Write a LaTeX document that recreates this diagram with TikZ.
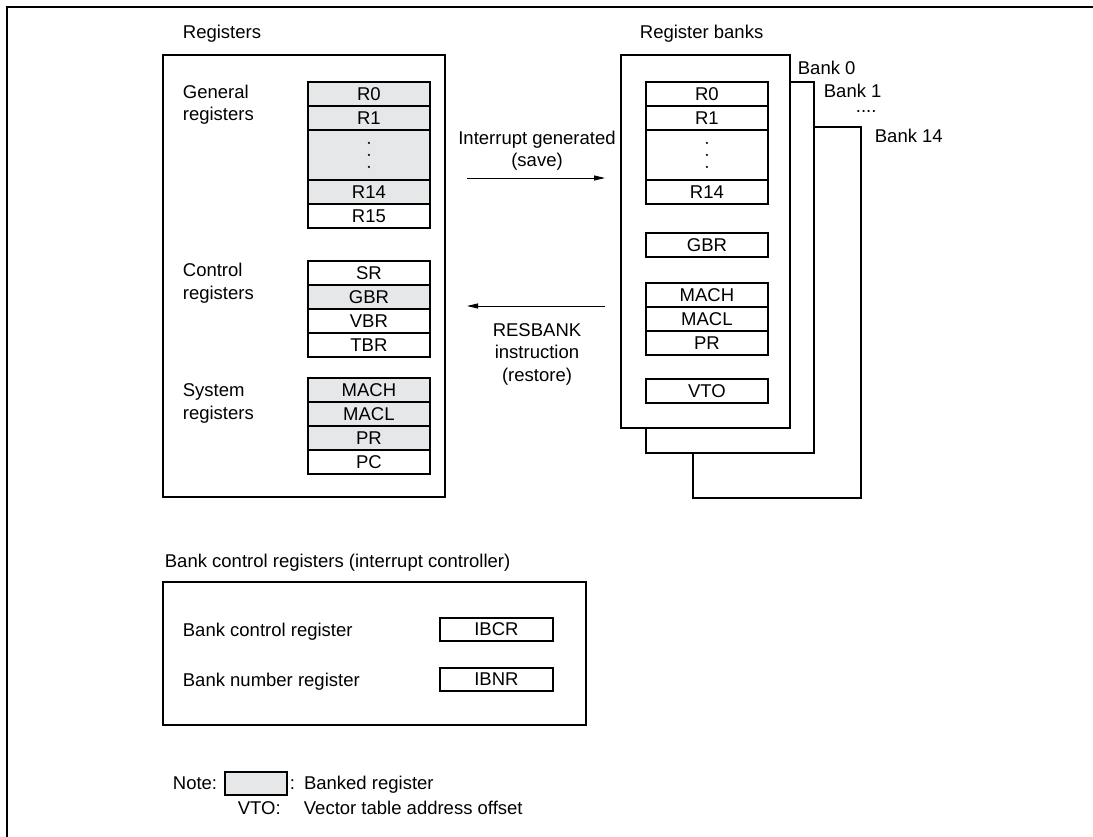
\documentclass[tikz,border=0pt]{standalone}
\usepackage{fontspec}
\setmainfont{Liberation Sans}
\usetikzlibrary{arrows.meta}
\definecolor{bankgray}{RGB}{230,231,232}

\begin{document}
\begin{tikzpicture}[x=1pt, y=-1pt, line width=1.8pt,
  font=\fontsize{18.5}{22.5}\selectfont,
  >={Triangle[length=11pt,width=5pt]},
  reg/.style={draw, minimum width=122pt, minimum height=24pt, inner sep=0pt, anchor=north west},
  bnk/.style={reg, fill=bankgray},
  vdts/.style={minimum height=50pt},
  lbl/.style={inner sep=0pt, anchor=base west, align=left}]
  \useasboundingbox (0,0) rectangle (1093,837);
  \draw[line width=2.5pt] (7,837) -- (7,7) -- (1093,7);

  % registers
  \node[lbl] (regt) at (182,39) {Registers};
  \draw (163,55) rectangle (445,497);
  \node[lbl] (gen) at (182,121) {General\\registers};
  \node[bnk] (r0) at (307,81) {R0};
  \node[bnk] (r1) at (307,105) {R1};
  \node[bnk, vdts] (rdts) at (307,129) {};
  \node[bnk] (r14) at (307,179) {R14};
  \node[reg] (r15) at (307,203) {R15};

  \node[lbl] (ctl) at (182,299) {Control\\registers};
  \node[reg] (sr) at (307,260) {SR};
  \node[bnk] (gbr) at (307,284) {GBR};
  \node[reg] (vbr) at (307,308) {VBR};
  \node[reg] (tbr) at (307,332) {TBR};

  \node[lbl] (sys) at (182,419) {System\\registers};
  \node[bnk] (mach) at (307,377) {MACH};
  \node[bnk] (macl) at (307,401) {MACL};
  \node[bnk] (pr) at (307,425) {PR};
  \node[reg] (pc) at (307,449) {PC};

  % register banks
  \node[lbl] (bkt) at (639,39) {Register banks};
  \draw (790,82) -| (814,453) -| (646,428);
  \draw (814,127) -| (861,498) -| (693,453);
  \draw (621,55) rectangle (790,428);
  \node[lbl] (b0) at (797,75) {Bank 0};
  \node[lbl] (b1) at (823,98) {Bank 1};
  \node[lbl, text height=2pt] (bdts) at (855,113) {....};
  \node[lbl] (b14) at (874,143) {Bank 14};

  \node[reg] (br0) at (645,81) {R0};
  \node[reg] (br1) at (645,105) {R1};
  \node[reg, vdts] (brdts) at (645,129) {};
  \node[reg] (br14) at (645,179) {R14};
  \node[reg] (bgbr) at (645,232) {GBR};
  \node[reg] (bmach) at (645,282) {MACH};
  \node[reg] (bmacl) at (645,306) {MACL};
  \node[reg] (bpr) at (645,330) {PR};
  \node[reg] (bvto) at (645,378) {VTO};

  \foreach \d in {-12,0,12} {
    \fill (rdts.center) ++(0,\d) circle (1.2pt);
    \fill (brdts.center) ++(0,\d) circle (1.2pt);
  }

  % save / restore
  \coordinate (sv0) at (467,178);
  \coordinate (sv1) at (605,178);
  \draw[->, line width=0.9pt] (sv0) -- (sv1);
  \node[lbl, anchor=base, align=center] (save) at (537,167) {Interrupt generated\\(save)};
  \coordinate (rs0) at (605,306);
  \coordinate (rs1) at (467,306);
  \draw[->, line width=0.9pt] (rs0) -- (rs1);
  \node[lbl, anchor=base, align=center] (rest) at (537,381) {RESBANK\\instruction\\(restore)};

  % bank control
  \node[lbl] (bct) at (164,567) {Bank control registers (interrupt controller)};
  \draw (163,582) rectangle (586,725);
  \node[lbl] (bcr) at (182,636) {Bank control register};
  \node[reg, minimum width=113pt, minimum height=23pt] (ibcr) at (439,617) {IBCR};
  \node[lbl] (bnr) at (182,686) {Bank number register};
  \node[reg, minimum width=113pt, minimum height=23pt] (ibnr) at (439,667) {IBNR};

  % note
  \node[lbl] (note) at (172,789) {Note:};
  \node[bnk, minimum width=62pt, minimum height=23pt] (key) at (224,771) {};
  \node[lbl] (keyt) at (289,789) {:\hspace{9pt}Banked register};
  \node[lbl] (vto) at (237,814) {VTO:};
  \node[lbl] (vtot) at (303,814) {Vector table address offset};
\end{tikzpicture}
\end{document}
